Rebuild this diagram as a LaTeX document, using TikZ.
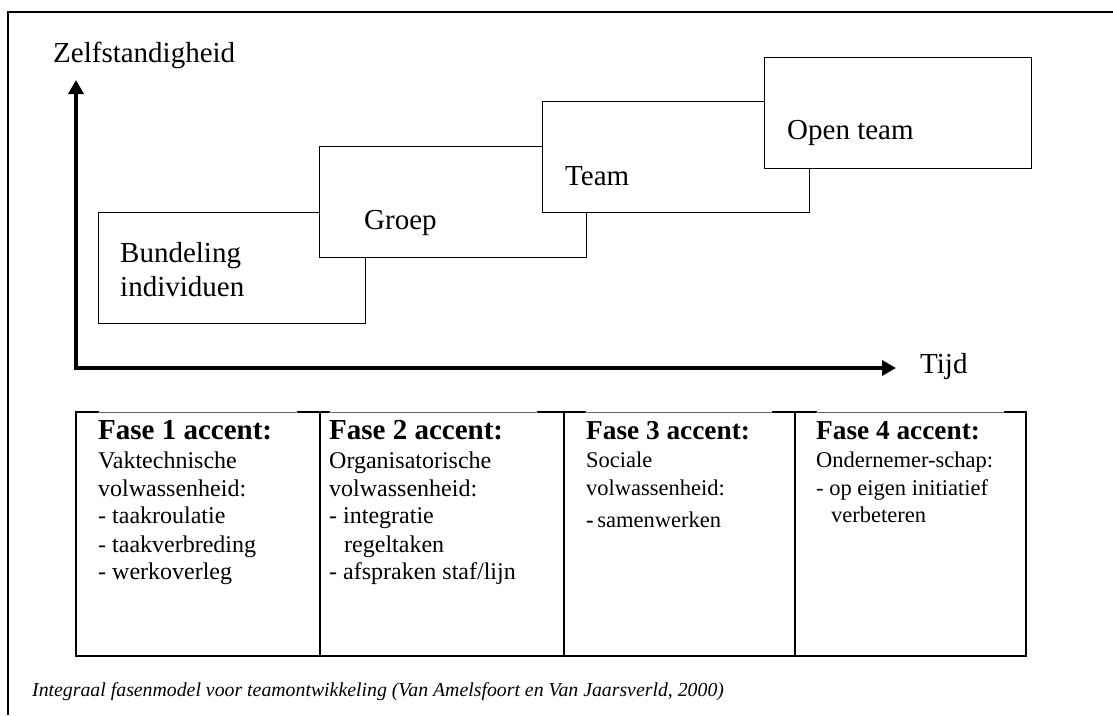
\documentclass[tikz,border=0pt]{standalone}
\usepackage{fontspec}
\setmainfont{Liberation Serif}
\usetikzlibrary{arrows.meta}

\begin{document}
\begin{tikzpicture}[x=1pt,y=-1pt,
  outer/.style={line width=1.2pt},
  stage/.style={draw, line width=1.4pt, fill=white, minimum width=267pt,
    minimum height=111pt, anchor=north west, inner sep=0pt},
  big/.style={anchor=base west, inner sep=0pt, font=\fontsize{29}{34}\selectfont},
  axis/.style={line width=3.5pt, line join=miter,
    {Triangle[length=14pt,width=15pt]}-{Triangle[length=14pt,width=15pt]}},
  cellrule/.style={line width=1.8pt, line cap=rect},
  thinrule/.style={line width=0.9pt, black!60},
  headA/.style={anchor=base west, inner sep=0pt, font=\fontsize{29}{34}\bfseries\selectfont},
  headB/.style={anchor=base west, inner sep=0pt, font=\fontsize{27.3}{32}\bfseries\selectfont},
  bodyA/.style={anchor=base west, inner sep=0pt, font=\fontsize{24}{28}\selectfont},
  bodyB/.style={anchor=base west, inner sep=0pt, font=\fontsize{22.5}{27}\selectfont},
  captiontext/.style={anchor=base west, inner sep=0pt, font=\fontsize{19.8}{23}\itshape\selectfont}
]
\useasboundingbox (0,0) rectangle (1113,715);

% partial outer frame
\coordinate (fb) at (8,715);
\coordinate (fc) at (8,12);
\coordinate (fr) at (1113,12);
\draw[outer] (fb) -- (fc) -- (fr);

% axes
\coordinate (ytip) at (76,80);
\coordinate (orig) at (76,368);
\coordinate (xtip) at (896,368);
\draw[axis] (ytip) -- (orig) -- (xtip);
\node[big] (ylab) at (53,62) {Zelfstandigheid};
\node[big] (xlab) at (920,373) {Tijd};

% staircase of stages
\node[stage] (s1) at (98,212) {};
\node[stage] (s2) at (319,146) {};
\node[stage] (s3) at (542,101) {};
\node[stage] (s4) at (764,57) {};
\node[big] (s1a) at (120,262) {Bundeling};
\node[big] (s1b) at (120,296) {individuen};
\node[big] (s2a) at (364,229) {Groep};
\node[big] (s3a) at (565,185) {Team};
\node[big] (s4a) at (787,139) {Open team};

% phase table
\draw[cellrule] (98,412) -- (76,412) -- (76,656) -- (1026,656) -- (1026,412) -- (1005,412);
\draw[cellrule] (298,412) -- (329,412);
\draw[cellrule] (538,412) -- (585,412);
\draw[cellrule] (773,412) -- (816,412);
\draw[cellrule] (320,412) -- (320,656);
\draw[cellrule] (564,412) -- (564,656);
\draw[cellrule] (795,412) -- (795,656);
\draw[thinrule] (98,412) -- (298,412);
\draw[thinrule] (329,412) -- (538,412);
\draw[thinrule] (585,412) -- (773,412);
\draw[thinrule] (816,412) -- (1005,412);

% phase 1
\node[headA] (h1) at (98,439) {Fase 1 accent:};
\node[bodyA] (p1a) at (98,468) {Vaktechnische};
\node[bodyA] (p1b) at (98,496) {volwassenheid:};
\node[bodyA] (p1c) at (98,523) {- taakroulatie};
\node[bodyA] (p1d) at (98,552) {- taakverbreding};
\node[bodyA] (p1e) at (98,579) {- werkoverleg};

% phase 2
\node[headA] (h2) at (329,439) {Fase 2 accent:};
\node[bodyA] (p2a) at (329,468) {Organisatorische};
\node[bodyA] (p2b) at (329,496) {volwassenheid:};
\node[bodyA] (p2c) at (329,523) {- integratie};
\node[bodyA] (p2d) at (344,552) {regeltaken};
\node[bodyA] (p2e) at (329,579) {- afspraken staf/lijn};

% phase 3
\node[headB] (h3) at (586,439) {Fase 3 accent:};
\node[bodyB] (p3a) at (586,467) {Sociale};
\node[bodyB] (p3b) at (586,495) {volwassenheid:};
\node[bodyB] (p3c) at (586,527) {{\bfseries -}\,samenwerken};

% phase 4
\node[headB] (h4) at (816,439) {Fase 4 accent:};
\node[bodyB] (p4a) at (816,467) {Ondernemer-schap:};
\node[bodyB] (p4b) at (816,495) {- op eigen initiatief};
\node[bodyB] (p4c) at (831,522) {verbeteren};

% caption
\node[captiontext] (caption) at (32,696) {Integraal fasenmodel voor teamontwikkeling (Van Amelsfoort en Van Jaarsverld, 2000)};
\end{tikzpicture}
\end{document}
